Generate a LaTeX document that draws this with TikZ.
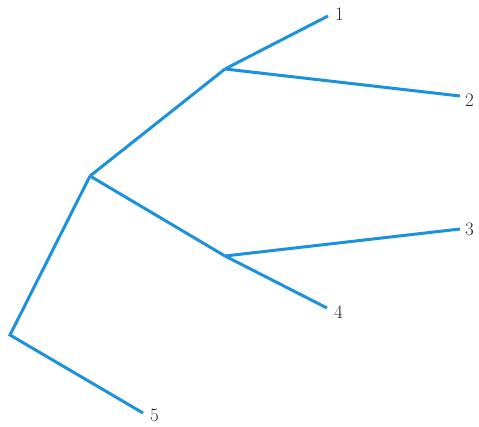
\documentclass[tikz,border=0pt]{standalone}
\usepackage{tikz}
\usetikzlibrary{positioning}
\definecolor{branchcolor}{RGB}{28, 146, 218}
\definecolor{labelcolor}{RGB}{40, 40, 40}
\tikzset{
branch/.style={
  draw=branchcolor,
  line width=3pt,
  line join=miter
},
leaflabel/.style={
  font=\fontsize{19}{22}\selectfont,
  text=labelcolor,
  inner sep=1pt
}
}
\begin{document}
\begin{tikzpicture}[x=1pt, y=-1pt]
\useasboundingbox (0, 0) rectangle (479, 427);

% ============================================================================
% NOS INTERNOS
% ============================================================================
\coordinate (root) at (10, 335);
\coordinate (inA) at (90, 176);
\coordinate (inB) at (225, 69);
\coordinate (inC) at (225, 256);

% ============================================================================
% FOLHAS
% ============================================================================
\coordinate (tip1) at (328, 16);
\coordinate (tip2) at (460, 96);
\coordinate (tip3) at (460, 229);
\coordinate (tip4) at (327, 308);
\coordinate (tip5) at (143, 413);

\node[leaflabel, anchor=west] (leaf1) at (334, 14) {1};
\node[leaflabel, anchor=west] (leaf2) at (464, 100) {2};
\node[leaflabel, anchor=west] (leaf3) at (464, 229) {3};
\node[leaflabel, anchor=west] (leaf4) at (333, 312) {4};
\node[leaflabel, anchor=west] (leaf5) at (149, 415) {5};

% ============================================================================
% RAMOS
% ============================================================================
\draw[branch] (tip5) -- (root) -- (inA);
\draw[branch] (inA) -- (inB);
\draw[branch] (inA) -- (inC);
\draw[branch] (inB) -- (tip1);
\draw[branch] (inB) -- (tip2);
\draw[branch] (inC) -- (tip3);
\draw[branch] (inC) -- (tip4);

\end{tikzpicture}
\end{document}
